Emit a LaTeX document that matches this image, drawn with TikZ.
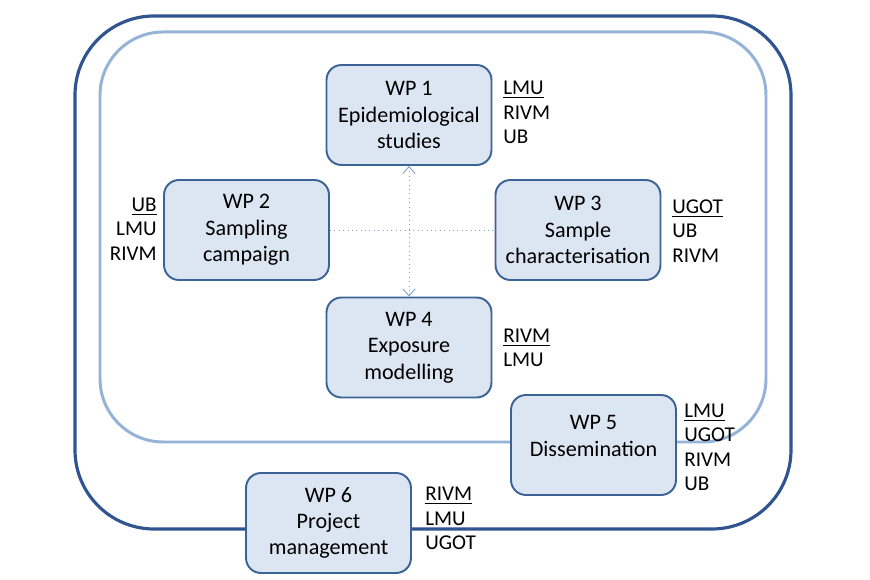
\documentclass[tikz,border=0pt]{standalone}
\usepackage{fontspec}
\setmainfont{Carlito}
\usepackage{tikz}
\usetikzlibrary{arrows.meta}
\definecolor{frameouter}{HTML}{2F5490}
\definecolor{frameinner}{HTML}{95B3D7}
\definecolor{wpline}{HTML}{3B6396}
\definecolor{wpfill}{HTML}{DCE6F2}
\definecolor{linkcol}{HTML}{7BA0CF}

\begin{document}
\begin{tikzpicture}[x=0.02cm,y=-0.02cm,
    wpbox/.style={draw=wpline,line width=1.1pt,fill=wpfill,rounded corners=8.5pt,
      minimum width=3.3cm,minimum height=2.0cm,align=center,inner sep=0pt,
      font=\fontsize{12.6}{15}\selectfont},
    partners/.style={inner sep=0pt,font=\fontsize{12}{13.9}\selectfont},
    link/.style={draw=linkcol,line width=0.5pt,dotted}]
  \useasboundingbox (0,0) rectangle (870,580);

  \draw[frameouter,line width=1.8pt,rounded corners=45pt] (75,16) rectangle (791,529);
  \draw[frameinner,line width=1.7pt,rounded corners=36pt] (100,32) rectangle (766,442);

  \node[wpbox] (wp1) at (409,115) {WP 1\\Epidemiological\\studies};
  \node[wpbox] (wp2) at (246.5,230) {WP 2\\Sampling\\campaign};
  \node[wpbox] (wp3) at (578,230) {WP 3\\Sample\\characterisation};
  \node[wpbox] (wp4) at (409,347.5) {WP 4\\Exposure\\modelling};
  \node[wpbox] (wp5) at (593.5,445) {WP 5\\Dissemination\\[-9pt]\strut};
  \node[wpbox] (wp6) at (328.5,523) {WP 6\\Project\\management};

  \draw[link] (wp2) -- (wp3);
  \draw[link,{Straight Barb[length=4pt,width=7pt]}-{Straight Barb[length=4pt,width=7pt]}] (wp1) -- (wp4);

  \node[partners,anchor=west,align=left] (p1) at (503,112.5) {\underline{LMU}\\RIVM\\UB};
  \node[partners,anchor=east,align=right] (p2) at (157,229) {\underline{UB}\\LMU\\RIVM};
  \node[partners,anchor=west,align=left] (p3) at (672,231) {\underline{UGOT}\\UB\\RIVM};
  \node[partners,anchor=west,align=left] (p4) at (503,348) {\underline{RIVM}\\LMU};
  \node[partners,anchor=west,align=left] (p5) at (684,447.5) {\underline{LMU}\\UGOT\\RIVM\\UB};
  \node[partners,anchor=west,align=left] (p6) at (425,518.5) {\underline{RIVM}\\LMU\\UGOT};
\end{tikzpicture}
\end{document}
